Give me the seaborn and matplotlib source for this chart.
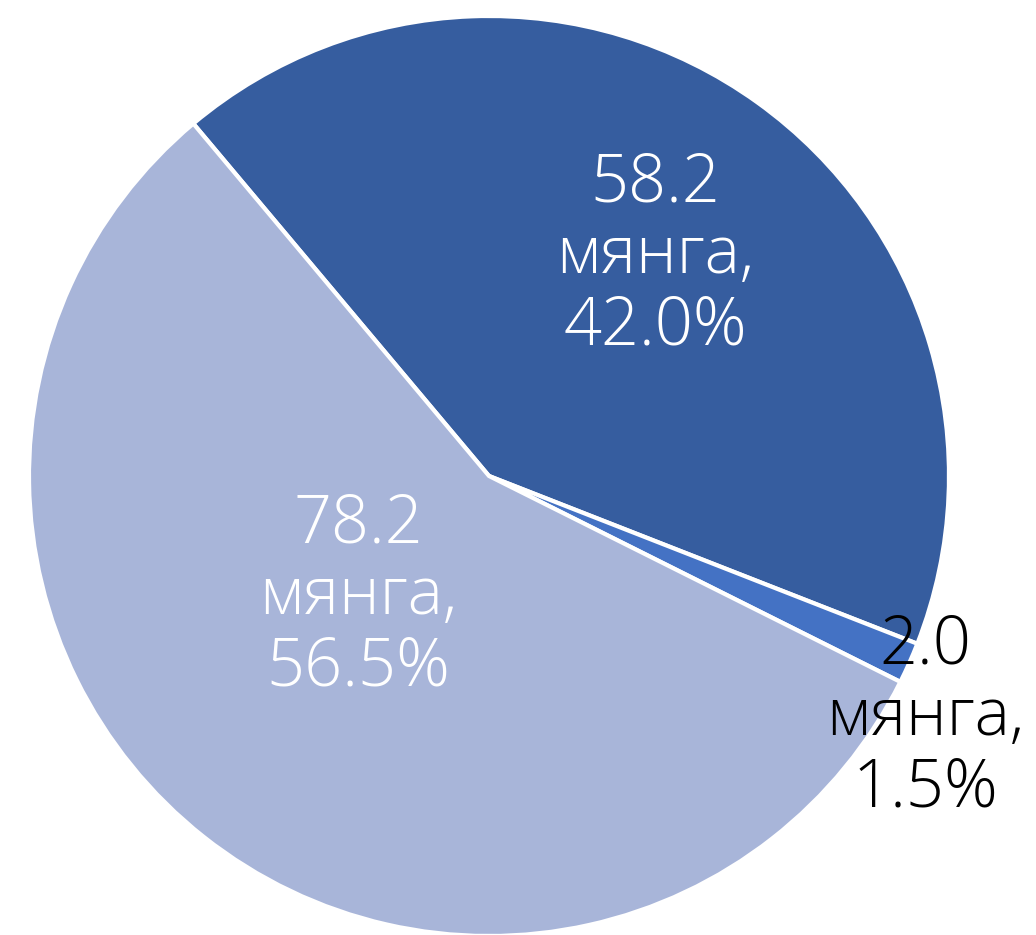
import matplotlib
matplotlib.use("Agg")
import matplotlib.pyplot as plt
import seaborn as sns

sns.set_theme(style="white")
plt.rcParams['font.family'] = ['Open Sans', 'DejaVu Sans']

categories = ["A", "B", "C"]
values = [58.2, 2.0, 78.2]
percents = ["42.0%", "1.5%", "56.5%"]
unit = "мянга"
colors = ["#365D9F", "#4472C4", "#A8B5D9"]
text_colors = ["white", "black", "white"]

# label positions (data coords, radius = 1)
label_pos = [(0.361, 0.478), (0.948, -0.525), (-0.285, -0.262)]

fig = plt.figure(figsize=(10.36, 9.35), dpi=100)
ax = fig.add_axes([0, 0, 1, 1])
ax.pie(values, colors=colors, startangle=130, counterclock=False,
       wedgeprops=dict(edgecolor="white", linewidth=3), radius=1.0)
for v, p, tc, (x, y) in zip(values, percents, text_colors, label_pos):
    ax.text(x, y, f"{v:.1f}\n{unit},\n{p}", color=tc, ha="center", va="center",
            fontsize=48, linespacing=1.1, fontweight="light")
ax.set_aspect("auto")
ax.set_xlim(-489 / 460, (1036 - 489) / 460)
ax.set_ylim(-459 / 460, (935 - 459) / 460)
ax.axis("off")
fig.savefig("out.png", dpi=100)
